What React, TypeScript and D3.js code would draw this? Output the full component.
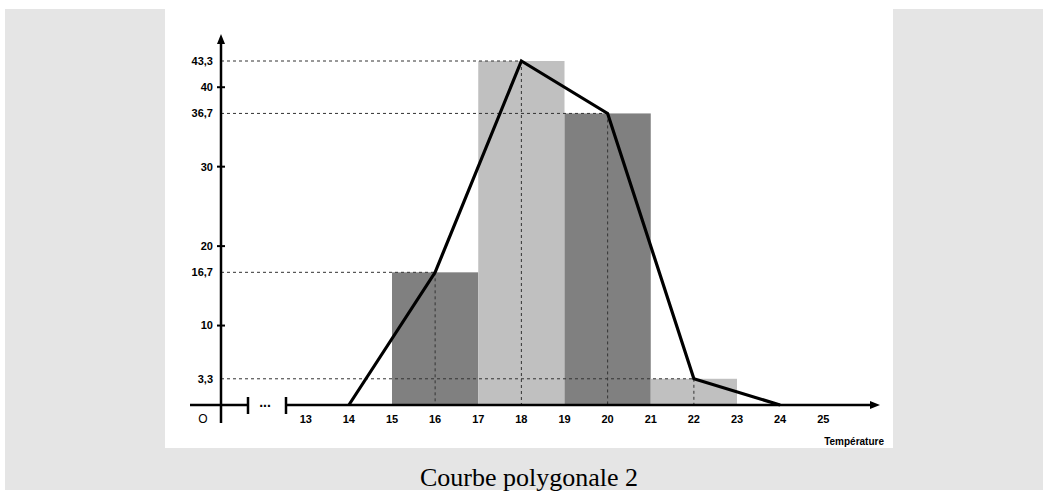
import React from "react";
import * as d3 from "d3";

const classStarts = [15, 17, 19, 21];
const classEnds = [17, 19, 21, 23];
const classValues = [16.7, 43.3, 36.7, 3.3];
const classShades = ["dark", "light", "dark", "light"];

const polyX = [14, 16, 18, 20, 22, 24];
const polyY = [0, 16.7, 43.3, 36.7, 3.3, 0];

const xTickValues = [13, 14, 15, 16, 17, 18, 19, 20, 21, 22, 23, 24, 25];
const yTickValues = [10, 20, 30, 40];
const yLabelValues = [3.3, 10, 16.7, 20, 30, 36.7, 40, 43.3];

const fmt = (v: number) => (Number.isInteger(v) ? String(v) : String(v).replace(".", ","));

export default function App() {
  const W = 1048, H = 491;
  const x = d3.scaleLinear().domain([15, 23]).range([392, 737]);
  const y = d3.scaleLinear().domain([0, 43.3]).range([405, 61]);
  const axisX = 221;
  const axisY = y(0);
  const line = d3.line<number>().x((_, i) => x(polyX[i])).y((d) => y(d));
  const num = "'Liberation Sans', Arial, sans-serif";
  const dash = { stroke: "#333", strokeWidth: 1, strokeDasharray: "3,3", fill: "none" } as const;
  return (
    <svg width={W} height={H} style={{ position: "absolute", left: 0, top: 0 }}>
      <rect x={0} y={0} width={W} height={H} fill="#ffffff" />
      <rect x={5} y={9} width={1038} height={481} fill="#e5e5e5" />
      <rect x={165} y={9} width={728} height={439} fill="#ffffff" />

      {classValues.map((v, i) => (
        <rect
          key={i}
          x={x(classStarts[i])}
          y={y(v)}
          width={x(classEnds[i]) - x(classStarts[i])}
          height={axisY - y(v)}
          fill={classShades[i] === "dark" ? "#808080" : "#c0c0c0"}
        />
      ))}

      {/* dashed guides */}
      {polyY.map((v, i) =>
        v > 0 ? (
          <g key={i}>
            <line x1={axisX} x2={x(polyX[i])} y1={y(v)} y2={y(v)} {...dash} />
            <line x1={x(polyX[i])} x2={x(polyX[i])} y1={y(v)} y2={axisY} {...dash} />
          </g>
        ) : null
      )}

      {/* polygon */}
      <path d={line(polyY) || ""} fill="none" stroke="#000" strokeWidth={3.2} strokeLinejoin="miter" />

      {/* y axis */}
      <line x1={axisX} x2={axisX} y1={423} y2={42} stroke="#000" strokeWidth={2.5} />
      <path d={`M${axisX},34 L${axisX - 4},44 L${axisX + 4},44 Z`} fill="#000" />
      {yTickValues.map((t) => (
        <line key={t} x1={axisX - 4} x2={axisX + 4} y1={y(t)} y2={y(t)} stroke="#000" strokeWidth={2} />
      ))}
      {yLabelValues.map((t) => (
        <text key={t} x={213} y={y(t)} dy="0.35em" textAnchor="end" fontFamily={num} fontWeight="bold" fontSize={11}>
          {fmt(t)}
        </text>
      ))}

      {/* x axis with break */}
      <line x1={190} x2={248} y1={axisY} y2={axisY} stroke="#000" strokeWidth={2.5} />
      <line x1={286} x2={872} y1={axisY} y2={axisY} stroke="#000" strokeWidth={2.5} />
      <path d={`M880,${axisY} L870,${axisY - 4} L870,${axisY + 4} Z`} fill="#000" />
      <line x1={248} x2={248} y1={397} y2={414} stroke="#000" strokeWidth={2.5} />
      <line x1={286} x2={286} y1={397} y2={414} stroke="#000" strokeWidth={2.5} />
      <text x={265} y={407} textAnchor="middle" fontFamily={num} fontWeight="bold" fontSize={14}>
        ...
      </text>
      <text x={203} y={419} dy="0.35em" textAnchor="middle" fontFamily={num} fontSize={12}>
        O
      </text>
      {xTickValues.map((t) => (
        <text key={t} x={x(t)} y={419} dy="0.35em" textAnchor="middle" fontFamily={num} fontWeight="bold" fontSize={11}>
          {t}
        </text>
      ))}
      <text x={884} y={441} dy="0.35em" textAnchor="end" fontFamily={num} fontWeight="bold" fontSize={10}>
        Température
      </text>

      <text x={529} y={486} textAnchor="middle" fontFamily="'Liberation Serif', 'Times New Roman', serif" fontSize={26} fill="#000">
        Courbe polygonale 2
      </text>
    </svg>
  );
}
